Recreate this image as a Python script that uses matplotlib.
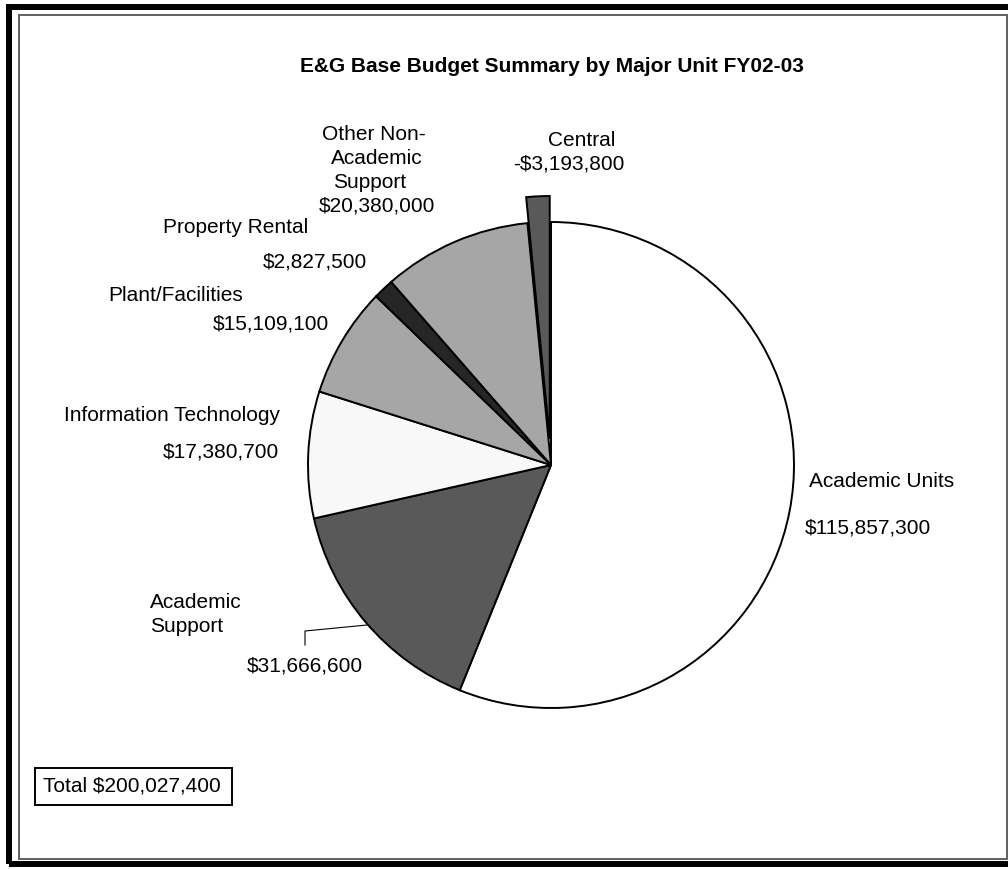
import matplotlib
matplotlib.use("Agg")
import matplotlib.pyplot as plt
from matplotlib.patches import Rectangle

W, H = 1008, 869

categories = [
    "Academic Units",
    "Academic Support",
    "Information Technology",
    "Plant/Facilities",
    "Property Rental",
    "Other Non-Academic Support",
    "Central",
]
amounts = [115857300, 31666600, 17380700, 15109100, 2827500, 20380000, -3193800]
total = 200027400
colors = ["#ffffff", "#595959", "#f8f8f8", "#a6a6a6", "#262626", "#a6a6a6", "#595959"]
# explode offsets in pixels (pie is drawn in pixel units)
explode = [0, 0, 0, 0, 0, 0, 26]

# how each category name is wrapped on the chart
name_lines = {
    "Academic Support": ["Academic", "Support"],
    "Other Non-Academic Support": ["Other Non-", "Academic", "Support"],
}

# label layout in pixels: (name left x, first name baseline, value left x, value baseline)
label_pos = {
    "Academic Units": (809, 487, 805, 533),
    "Academic Support": (150, 608, 247, 671),
    "Information Technology": (64, 421, 163, 457),
    "Plant/Facilities": (108, 301, 213, 329),
    "Property Rental": (163, 233, 263, 268),
    "Other Non-Academic Support": (None, 140, 319, 212),
    "Central": (548, 146, 513, 170),
}
other_lefts = [322, 331, 333]
LINE_STEP = 24
FS = 15
FONT = "Liberation Sans"


def py(y):
    # pixel row (from top) -> data y
    return H - y


def money(v):
    return ("-" if v < 0 else "") + f"${abs(v):,}"


fig = plt.figure(figsize=(W / 100, H / 100), dpi=100)
ax = fig.add_axes([0, 0, 1, 1])

ax.pie(
    [abs(v) for v in amounts],
    colors=colors,
    explode=explode,
    startangle=90,
    counterclock=False,
    center=(551, py(465)),
    radius=243,
    wedgeprops=dict(edgecolor="black", linewidth=1.4),
)
ax.set_xlim(0, W)
ax.set_ylim(0, H)
ax.set_aspect("auto")
ax.axis("off")

for cat, amt in zip(categories, amounts):
    nx, ny, vx, vy = label_pos[cat]
    lines = name_lines.get(cat, [cat])
    for i, line in enumerate(lines):
        x = other_lefts[i] if nx is None else nx
        ax.text(x, py(ny + i * LINE_STEP), line, fontsize=FS, family=FONT,
                ha="left", va="baseline")
    ax.text(vx, py(vy), money(amt), fontsize=FS, family=FONT,
            ha="left", va="baseline")

# leader line for Academic Support
ax.plot([305, 305, 367], [py(645), py(631), py(625)], color="black", lw=0.8)

ax.text(552, py(72), "E&G Base Budget Summary by Major Unit FY02-03",
        fontsize=15, family=FONT, fontweight="bold", ha="center", va="baseline")

ax.text(43, py(792), f"Total {money(total)}", fontsize=FS, family=FONT,
        ha="left", va="baseline")
ax.add_patch(Rectangle((35, py(805)), 197, 37, fill=False, edgecolor="black",
                       lw=1.4, clip_on=False))

# chart frame
ax.add_patch(Rectangle((9, py(864)), 1010, 857, fill=False, edgecolor="black",
                       lw=4.3, clip_on=False))
ax.add_patch(Rectangle((18.5, py(858.5)), 988, 844, fill=False,
                       edgecolor="#606060", lw=1.4, clip_on=False))

fig.savefig("out.png", dpi=100)
